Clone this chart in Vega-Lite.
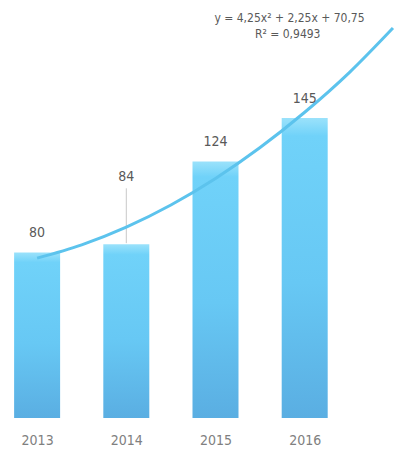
{
  "$schema": "https://vega.github.io/schema/vega-lite/v6.json",
  "width": 398,
  "height": 418,
  "autosize": {"type": "none"},
  "padding": {"left": 0, "right": 0, "top": 0, "bottom": 36},
  "background": "white",
  "config": {"view": {"stroke": null}, "font": "'Liberation Sans Narrow', 'DejaVu Sans Condensed', sans-serif"},
  "datasets": {
    "bars": [
      {"year": 2013, "value": 80},
      {"year": 2014, "value": 84},
      {"year": 2015, "value": 124},
      {"year": 2016, "value": 145}
    ],
    "trend": [
      {"year": 2013.0, "value": 77.25},
      {"year": 2013.5, "value": 83.69},
      {"year": 2014.0, "value": 92.25},
      {"year": 2014.5, "value": 102.94},
      {"year": 2015.0, "value": 115.75},
      {"year": 2015.5, "value": 130.69},
      {"year": 2016.0, "value": 147.75},
      {"year": 2016.5, "value": 166.94},
      {"year": 2016.99, "value": 188.5}
    ]
  },
  "resolve": {"scale": {"x": "shared", "y": "shared"}},
  "layer": [
    {
      "data": {"name": "bars"},
      "mark": {
        "type": "bar",
        "width": 46,
        "fill": {
          "gradient": "linear",
          "x1": 0, "y1": 0, "x2": 0, "y2": 1,
          "stops": [
            {"offset": 0, "color": "#9be2fb"},
            {"offset": 0.06, "color": "#70d2f9"},
            {"offset": 0.55, "color": "#67c8f4"},
            {"offset": 1, "color": "#5aaee2"}
          ]
        }
      },
      "encoding": {
        "x": {
          "field": "year",
          "type": "quantitative",
          "scale": {"domain": [2012.64, 2016.99], "nice": false, "zero": false},
          "axis": {
            "values": [2013, 2014, 2015, 2016],
            "format": "d",
            "grid": false,
            "domain": false,
            "ticks": false,
            "labelFontSize": 14,
            "labelColor": "#808080",
            "labelPadding": 15,
            "title": null
          }
        },
        "y": {
          "field": "value",
          "type": "quantitative",
          "scale": {"domain": [0, 202], "nice": false},
          "axis": null
        }
      }
    },
    {
      "data": {"name": "bars"},
      "transform": [{"filter": "datum.year == 2014"}],
      "mark": {"type": "rule", "color": "#c8c8c8", "strokeWidth": 1},
      "encoding": {
        "x": {"field": "year", "type": "quantitative"},
        "y": {"datum": 84.5, "type": "quantitative"},
        "y2": {"datum": 111}
      }
    },
    {
      "data": {"name": "trend"},
      "mark": {"type": "line", "color": "#5cc3ed", "strokeWidth": 3, "interpolate": "monotone"},
      "encoding": {
        "x": {"field": "year", "type": "quantitative"},
        "y": {"field": "value", "type": "quantitative"}
      }
    },
    {
      "data": {"name": "bars"},
      "transform": [{"filter": "datum.year != 2014"}],
      "mark": {"type": "text", "dy": -19, "baseline": "middle", "fontSize": 14, "color": "#595959"},
      "encoding": {
        "x": {"field": "year", "type": "quantitative"},
        "y": {"field": "value", "type": "quantitative"},
        "text": {"field": "value", "type": "quantitative"}
      }
    },
    {
      "data": {"name": "bars"},
      "transform": [{"filter": "datum.year == 2014"}],
      "mark": {"type": "text", "dy": -67, "baseline": "middle", "fontSize": 14, "color": "#595959"},
      "encoding": {
        "x": {"field": "year", "type": "quantitative"},
        "y": {"field": "value", "type": "quantitative"},
        "text": {"field": "value", "type": "quantitative"}
      }
    },
    {
      "data": {"values": [{"label": "y = 4,25x² + 2,25x + 70,75"}]},
      "mark": {"type": "text", "baseline": "middle", "fontSize": 12, "color": "#595959"},
      "encoding": {
        "x": {"datum": 2015.83, "type": "quantitative"},
        "y": {"datum": 193.5, "type": "quantitative"},
        "text": {"field": "label", "type": "nominal"}
      }
    },
    {
      "data": {"values": [{"label": "R² = 0,9493"}]},
      "mark": {"type": "text", "baseline": "middle", "fontSize": 12, "color": "#595959"},
      "encoding": {
        "x": {"datum": 2015.81, "type": "quantitative"},
        "y": {"datum": 185.5, "type": "quantitative"},
        "text": {"field": "label", "type": "nominal"}
      }
    }
  ]
}
